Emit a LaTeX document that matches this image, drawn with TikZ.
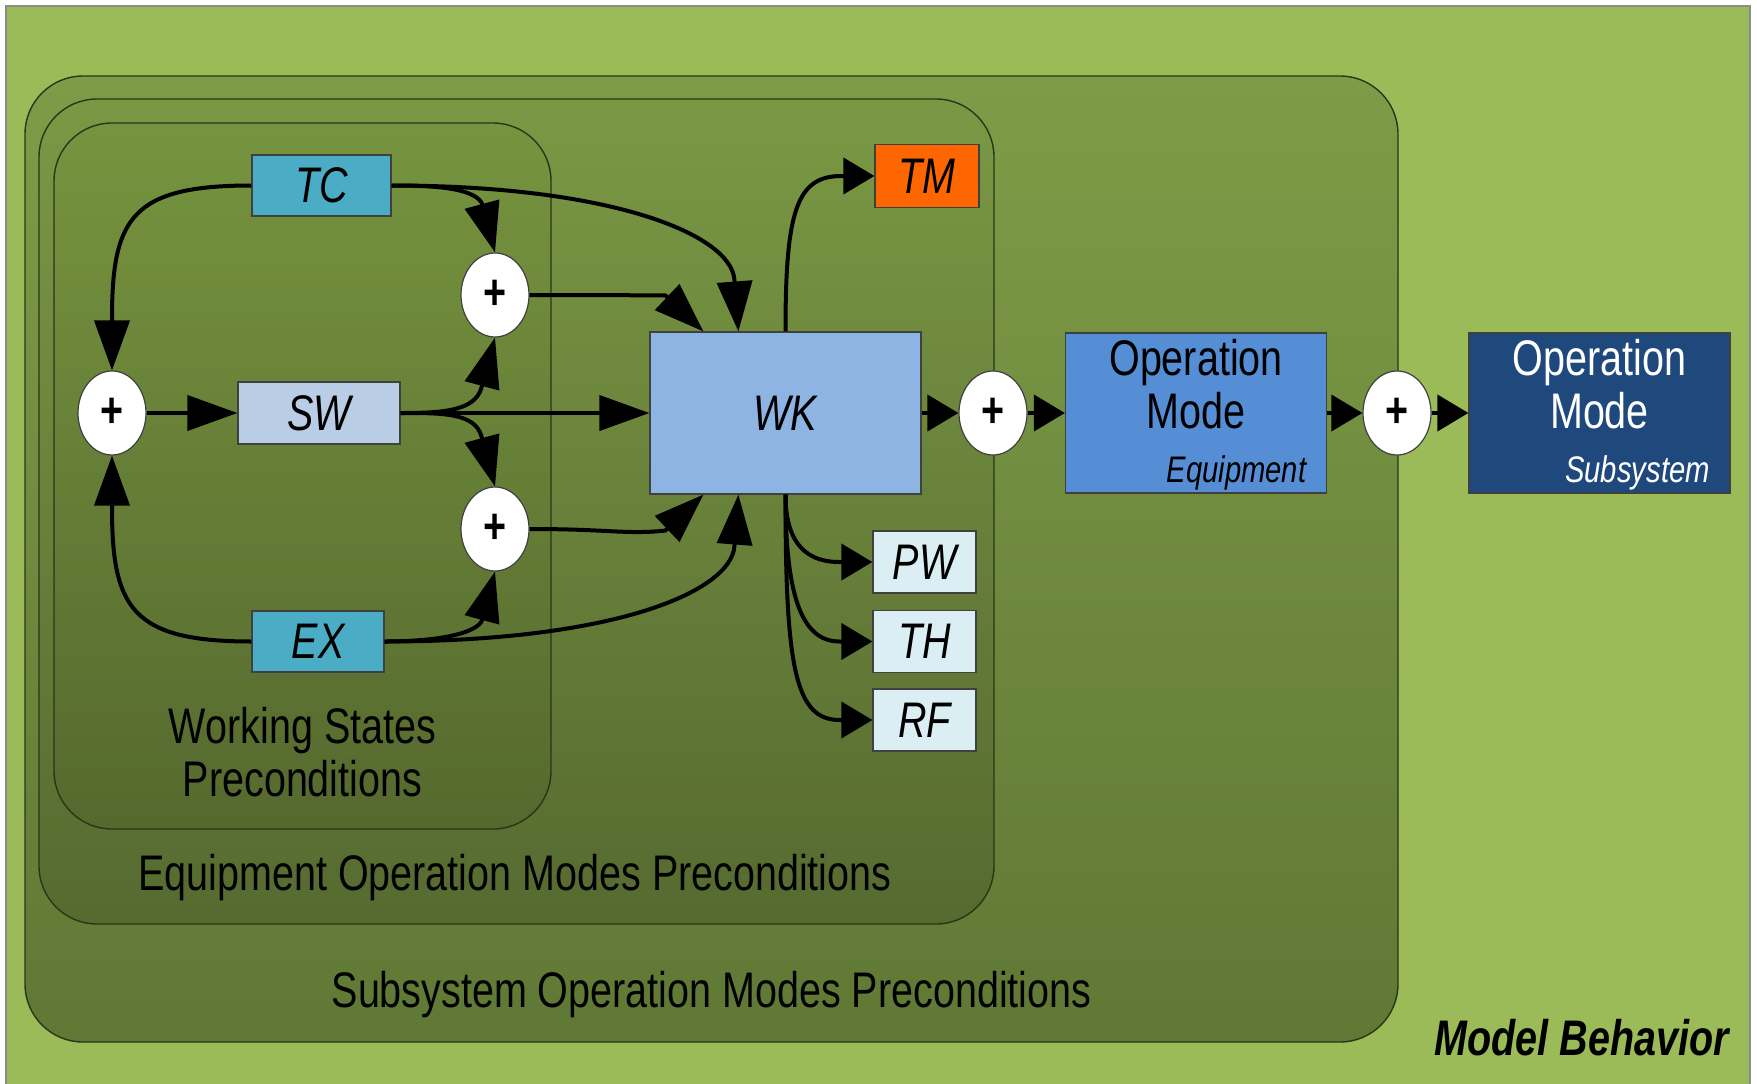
\documentclass[tikz,border=0pt]{standalone}
\usepackage{fontspec}
\setmainfont{Liberation Sans}[FakeStretch=0.79]
\usetikzlibrary{arrows.meta,shapes.geometric,calc}

\definecolor{olivebg}{HTML}{9BBB59}
\definecolor{framegray}{HTML}{8C8C8C}
\definecolor{subtop}{HTML}{7E9C47}
\definecolor{subbot}{HTML}{5F7835}
\definecolor{eqtop}{HTML}{7A9844}
\definecolor{eqbot}{HTML}{566A30}
\definecolor{wstop}{HTML}{76943F}
\definecolor{wsbot}{HTML}{55692E}
\definecolor{boxedge}{HTML}{2A3518}
\definecolor{aqua}{HTML}{4BACC6}
\definecolor{slateblue}{HTML}{B9CDE5}
\definecolor{wkblue}{HTML}{8EB4E3}
\definecolor{tmorange}{HTML}{FF6600}
\definecolor{paleblue}{HTML}{DBEEF4}
\definecolor{eqblue}{HTML}{558ED5}
\definecolor{subnavy}{HTML}{1F497D}
\definecolor{nodeedge}{HTML}{404040}

\newcommand\lblfont{\fontsize{50}{53}\selectfont}
\newcommand\tagfont{\fontsize{37}{40}\selectfont}
\newcommand\plusfont{\fontsize{50}{50}\selectfont\bfseries}

\begin{document}
\begin{tikzpicture}[x=1pt,y=-1pt,
  every node/.style={inner sep=0pt},
  var/.style={rectangle, draw=nodeedge, line width=1.2pt, font=\lblfont\itshape, text=black},
  sumnode/.style={ellipse, draw=nodeedge, fill=white, line width=1.2pt,
    minimum width=68pt, minimum height=84pt, font=\plusfont},
  flow/.style={line width=4pt, line join=round, -{Triangle[length=50pt,width=35pt]}},
  flowshort/.style={line width=4pt, line join=round, -{Triangle[length=31pt,width=36pt]}},
  region/.style={draw=boxedge, line width=1.4pt, rounded corners=58pt},
  caption/.style={font=\lblfont, text=black, anchor=base}
]
\useasboundingbox (0,0) rectangle (1757,1084);
\fill[white] (0,0) rectangle (1757,1084);

% model frame
\fill[olivebg] (6,6) rectangle (1750,1084);
\draw[framegray, line width=1.5pt] (6,1084) -- (6,6) -- (1750,6) -- (1750,1084);

% nested precondition regions
\draw[region, top color=subtop, bottom color=subbot] (25,76) rectangle (1398,1042);
\draw[region, top color=eqtop, bottom color=eqbot] (39,99) rectangle (994,924);
\draw[region, top color=wstop, bottom color=wsbot] (54,123) rectangle (551,829);

% region captions
\node[caption] (wsA) at (302.5,743) {Working States};
\node[caption] (wsB) at (302.5,796) {Preconditions};
\node[caption] (eqlabel) at (515,890) {Equipment Operation Modes Preconditions};
\node[caption] (sublabel) at (711.5,1007) {Subsystem Operation Modes Preconditions};
\node[font=\lblfont\bfseries\itshape, anchor=base east] (mbl) at (1729,1055) {Model Behavior};

% state variables
\node[var, fill=aqua, minimum width=139pt, minimum height=61pt] (TC) at (321.5,185.5) {TC};
\node[var, fill=slateblue, minimum width=162pt, minimum height=62pt] (SW) at (319,413) {SW};
\node[var, fill=aqua, minimum width=132pt, minimum height=61pt] (EX) at (318,641.5) {EX};
\node[var, fill=wkblue, minimum width=271pt, minimum height=162pt] (WK) at (785.5,413) {WK};
\node[var, fill=tmorange, minimum width=104pt, minimum height=63pt] (TM) at (927,176) {TM};
\node[var, fill=paleblue, minimum width=103pt, minimum height=62pt] (PW) at (924.5,562) {PW};
\node[var, fill=paleblue, minimum width=103pt, minimum height=62pt] (TH) at (924.5,641.5) {TH};
\node[var, fill=paleblue, minimum width=103pt, minimum height=62pt] (RF) at (924.5,720) {RF};

% operation modes
\node[var, fill=eqblue, minimum width=261pt, minimum height=160pt] (OE) at (1196,413) {};
\node[caption] (oeA) at (1196,375.5) {Operation};
\node[caption] (oeB) at (1196,428) {Mode};
\node[font=\tagfont\itshape, anchor=base east] (oeC) at (1306.5,482) {Equipment};
\node[var, fill=subnavy, minimum width=261pt, minimum height=160pt] (OS) at (1599.5,413) {};
\node[caption, text=white] (osA) at (1599.5,375.5) {Operation};
\node[caption, text=white] (osB) at (1599.5,428) {Mode};
\node[font=\tagfont\itshape, text=white, anchor=base east] (osC) at (1710,482) {Subsystem};

% summing junctions
\node[sumnode] (lp) at (112,413) {+};
\node[sumnode] (tp) at (495,295) {+};
\node[sumnode] (bp) at (495,529) {+};
\node[sumnode] (rp1) at (993,413) {+};
\node[sumnode] (rp2) at (1397,413) {+};

% entry points on the WK block
\coordinate (wkin1) at ($(WK.north west)+(54,0)$);
\coordinate (wkin2) at ($(WK.north west)+(89,0)$);
\coordinate (wkin3) at ($(WK.south west)+(54,0)$);
\coordinate (wkin4) at ($(WK.south west)+(89,0)$);

% working state logic
\draw[flow] (TC.west) .. controls +(-120,0) and +(0,-100) .. ($(lp.north)+(0,-52)$) -- (lp.north);
\draw[flow] (EX.west) .. controls +(-120,0) and +(0,100) .. ($(lp.south)+(0,52)$) -- (lp.south);
\draw[flow] (lp.east) -- (SW.west);
\draw[flow] (SW.east) -- (WK.west);
\draw[flow] (SW.east) .. controls +(40,0) and +(-6.5,24) .. ($(tp.south)+(-13.5,50)$) -- (tp.south);
\draw[flow] (SW.east) .. controls +(40,0) and +(-6.5,-24) .. ($(bp.north)+(-13.5,-50)$) -- (bp.north);
\draw[flow] (TC.east) .. controls +(40,0) and +(-10,-15) .. ($(tp.north)+(-13.5,-50)$) -- (tp.north);
\draw[flow] (EX.east) .. controls +(40,0) and +(-10,15) .. ($(bp.south)+(-13.5,50)$) -- (bp.south);
\draw[flow] (tp.east) .. controls +(80,0) and +(-20,0) .. ($(wkin1)+(-38,-36)$) -- (wkin1);
\draw[flow] (bp.east) .. controls +(80,0) and +(-40,4) .. ($(wkin3)+(-38,36)$) -- (wkin3);
\draw[flow] (TC.east) .. controls +(220,0) and +(-4,-45) .. ($(wkin2)+(-4,-52)$) -- (wkin2);
\draw[flow] (EX.east) .. controls +(230,0) and +(-4,45) .. ($(wkin4)+(-4,52)$) -- (wkin4);

% WK outputs
\draw[flowshort] (WK.north) .. controls +(0,-120) and +(-45,0) .. ($(TM.west)+(-33,0)$) -- (TM.west);
\draw[flowshort] (WK.south) .. controls +(0,40) and +(-40,0) .. ($(PW.west)+(-33,0)$) -- (PW.west);
\draw[flowshort] (WK.south) .. controls +(0,95) and +(-40,0) .. ($(TH.west)+(-33,0)$) -- (TH.west);
\draw[flowshort] (WK.south) .. controls +(0,170) and +(-45,0) .. ($(RF.west)+(-33,0)$) -- (RF.west);

% mode chain
\draw[flowshort] (WK.east) -- (rp1.west);
\draw[flowshort] (rp1.east) -- (OE.west);
\draw[flowshort] (OE.east) -- (rp2.west);
\draw[flowshort] (rp2.east) -- (OS.west);
\end{tikzpicture}
\end{document}
